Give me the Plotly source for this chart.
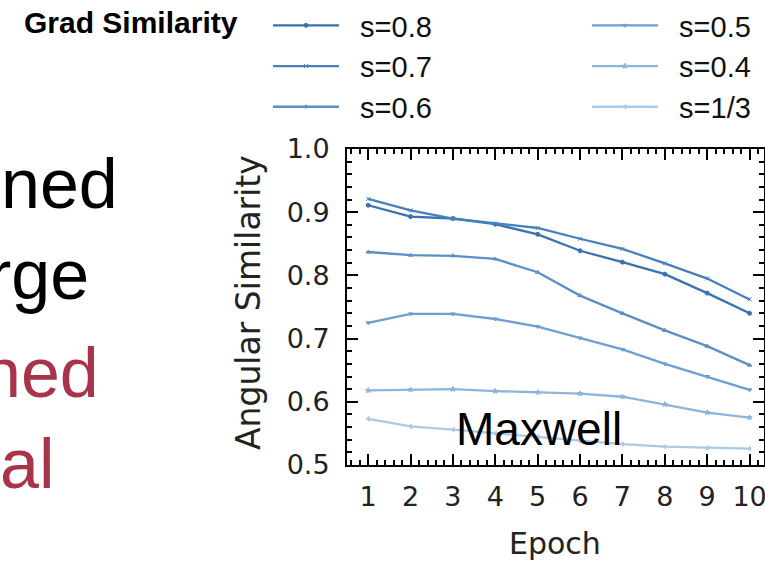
import plotly.graph_objects as go

# Angular similarity of gradients per epoch, one series per setting s
epochs = [1, 2, 3, 4, 5, 6, 7, 8, 9, 10]
series_names = ["s=0.8", "s=0.7", "s=0.6", "s=0.5", "s=0.4", "s=1/3"]
sim_08 = [0.911, 0.893, 0.890, 0.881, 0.865, 0.839, 0.821, 0.802, 0.772, 0.740]
sim_07 = [0.921, 0.903, 0.890, 0.882, 0.875, 0.858, 0.842, 0.819, 0.795, 0.762]
sim_06 = [0.837, 0.832, 0.831, 0.826, 0.805, 0.768, 0.740, 0.713, 0.688, 0.658]
sim_05 = [0.725, 0.739, 0.739, 0.731, 0.719, 0.701, 0.683, 0.660, 0.640, 0.619]
sim_04 = [0.618, 0.619, 0.620, 0.617, 0.615, 0.613, 0.608, 0.596, 0.583, 0.575]
sim_13 = [0.573, 0.561, 0.556, 0.550, 0.545, 0.538, 0.533, 0.529, 0.527, 0.526]
y_ticks = [0.5, 0.6, 0.7, 0.8, 0.9, 1.0]
y_tick_text = ["0.5", "0.6", "0.7", "0.8", "0.9", "1.0"]

all_series = [sim_08, sim_07, sim_06, sim_05, sim_04, sim_13]
colors = ["#3a72b0", "#4680bd", "#5a90c8", "#6f9fd0", "#8db5dc", "#abc9e6"]
symbols = ["circle", "x-thin", "triangle-up", "triangle-down", "star", "triangle-left"]
legend_ids = ["legend", "legend", "legend", "legend2", "legend2", "legend2"]

W, H = 765, 565
ML, MR, MT, MB = 347, 1, 149, 100
PW, PH = W - ML - MR, H - MT - MB


def px_x(p):
    return (p - ML) / PW


def px_y(p):
    return 1 - (p - MT) / PH


fig = go.Figure()
for name, vals, col, sym, lg in zip(series_names, all_series, colors, symbols, legend_ids):
    fig.add_trace(go.Scatter(
        x=epochs, y=vals, name="\u00a0\u00a0" + name, mode="lines+markers",
        line=dict(color=col, width=2.3),
        marker=dict(symbol=sym, size=4, color=col, line=dict(color=col, width=1)),
        legend=lg,
    ))

tick_font = dict(family="DejaVu Sans", size=27, color="#222222")
axis_common = dict(
    showline=True, linecolor="black", linewidth=2, mirror="allticks",
    ticks="inside", ticklen=11, tickwidth=2, tickcolor="black",
    showgrid=False, zeroline=False, tickfont=tick_font, automargin=False,
    ticklabeloverflow="allow",
)
fig.update_xaxes(
    range=[0.5, 10.34], tickmode="array", tickvals=epochs, tickangle=0,
    minor=dict(ticks="inside", ticklen=5, tickwidth=1.5, tickcolor="black", dtick=0.2, showgrid=False),
    ticklabelstandoff=7, **axis_common,
)
fig.update_yaxes(
    range=[0.5, 1.0], tickmode="array", tickvals=y_ticks, ticktext=y_tick_text,
    minor=dict(ticks="inside", ticklen=5, tickwidth=1.5, tickcolor="black", dtick=0.02, showgrid=False),
    ticklabelstandoff=10, **axis_common,
)

legend_style = dict(
    font=dict(family="Liberation Sans, Arial", size=29, color="#111111"),
    bgcolor="rgba(0,0,0,0)", xref="container", yref="container",
    xanchor="left", yanchor="top", itemwidth=66, tracegroupgap=0,
)
fig.update_layout(
    width=W, height=H,
    margin=dict(l=ML, r=MR, t=MT, b=MB, autoexpand=False),
    paper_bgcolor="white", plot_bgcolor="white",
    showlegend=True,
    legend=dict(x=268 / W, y=1 + 7 / H, **legend_style),
    legend2=dict(x=587 / W, y=1 + 7 / H, **legend_style),
)

red = "#a8344a"
annotations = [
    dict(text="<b>Grad Similarity</b>", x=px_x(240), y=px_y(22), xanchor="right", yanchor="middle",
         font=dict(family="Liberation Sans, Arial", size=30, color="black")),
    dict(text="ned", x=px_x(120), y=px_y(184), xanchor="right", yanchor="middle",
         font=dict(family="Liberation Sans, Arial", size=70, color="black")),
    dict(text="rge", x=px_x(91), y=px_y(275), xanchor="right", yanchor="middle",
         font=dict(family="Liberation Sans, Arial", size=70, color="black")),
    dict(text="hed", x=px_x(101), y=px_y(373), xanchor="right", yanchor="middle",
         font=dict(family="Liberation Sans, Arial", size=70, color=red)),
    dict(text="al", x=px_x(56), y=px_y(464), xanchor="right", yanchor="middle",
         font=dict(family="Liberation Sans, Arial", size=70, color=red)),
    dict(text="Maxwell", x=px_x(539), y=px_y(429), xanchor="center", yanchor="middle",
         font=dict(family="Liberation Sans, Arial", size=46, color="black")),
    dict(text="Angular Similarity", x=px_x(248), y=px_y(303), xanchor="center", yanchor="middle",
         textangle=-90, font=dict(family="DejaVu Sans", size=33, color="#222222")),
    dict(text="Epoch", x=px_x(555), y=px_y(543), xanchor="center", yanchor="middle",
         font=dict(family="DejaVu Sans", size=30, color="#222222")),
]
for a in annotations:
    a.update(xref="paper", yref="paper", showarrow=False)
fig.update_layout(annotations=annotations)

fig.write_html("out.html")
